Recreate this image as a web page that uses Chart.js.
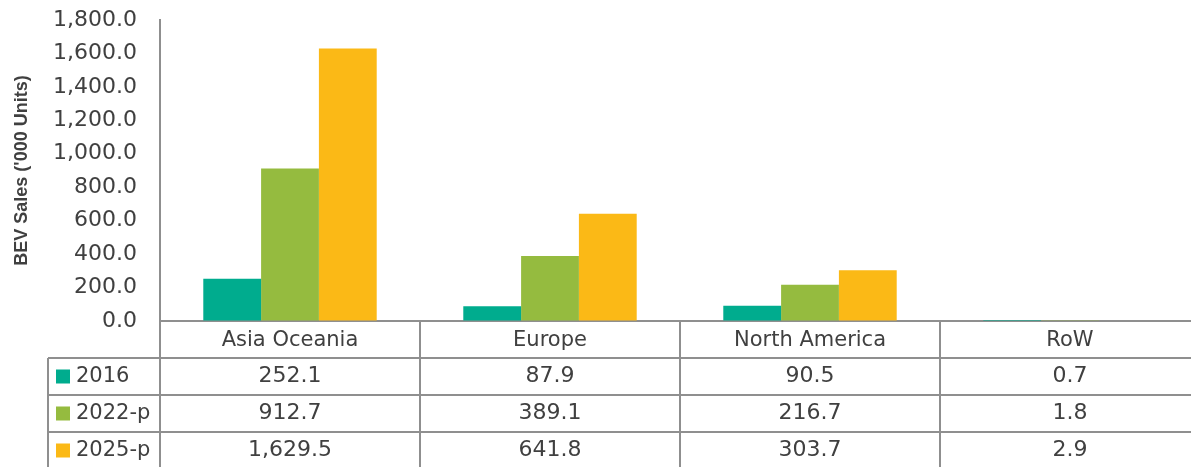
<!DOCTYPE html>
<html>
<head>
<meta charset="utf-8">
<script src="https://cdn.jsdelivr.net/npm/chart.js@4/dist/chart.umd.min.js"></script>
<style>
  html, body { margin: 0; padding: 0; background: #fff; overflow: hidden; }
  #wrap { width: 1200px; height: 467px; }
</style>
</head>
<body>
<div id="wrap"><canvas id="bevChart" width="1200" height="467"></canvas></div>
<script>
// chart data
const categories = ['Asia Oceania', 'Europe', 'North America', 'RoW'];
const seriesNames = ['2016', '2022-p', '2025-p'];
const sales2016 = [252.1, 87.9, 90.5, 0.7];
const sales2022p = [912.7, 389.1, 216.7, 1.8];
const sales2025p = [1629.5, 641.8, 303.7, 2.9];
const yMin = 0, yMax = 1800, yStep = 200;

const colors = ['#00ac8e', '#95bb3f', '#fbb916'];
const lineColor = '#8f8f8f';
const textColor = '#404040';

const fmt = v => v.toLocaleString('en-US', { minimumFractionDigits: 1, maximumFractionDigits: 1 });

Chart.defaults.font.family = "'DejaVu Sans', sans-serif";
Chart.defaults.color = textColor;

// draws the data table under the x axis, column positions taken from the x scale
const dataTable = {
  id: 'dataTable',
  afterDraw(chart) {
    const ctx = chart.ctx;
    const xs = chart.scales.x;
    const area = chart.chartArea;
    const n = categories.length;
    const colW = xs.width / n;
    const rowH = 37;
    const top = area.bottom + 37;   // under header row
    const tableLeft = 48;
    const bottom = chart.height + 5;

    ctx.save();
    ctx.strokeStyle = lineColor;
    ctx.lineWidth = 2;
    ctx.beginPath();
    // horizontal lines
    for (let r = 0; r < 4; r++) {
      const y = top + r * rowH;
      ctx.moveTo(tableLeft, y);
      ctx.lineTo(xs.right, y);
    }
    // vertical lines
    ctx.moveTo(tableLeft, top);
    ctx.lineTo(tableLeft, bottom);
    for (let i = 0; i < n; i++) {
      const x = xs.left + i * colW;
      ctx.moveTo(x, area.bottom);
      ctx.lineTo(x, bottom);
    }
    ctx.stroke();

    ctx.textBaseline = 'middle';
    chart.data.datasets.forEach((ds, r) => {
      const cy = top + r * rowH + rowH / 2;
      ctx.fillStyle = ds.backgroundColor;
      ctx.fillRect(56, cy - 7, 14, 14);
      ctx.fillStyle = textColor;
      ctx.textAlign = 'left';
      ctx.font = "21px 'DejaVu Sans', sans-serif";
      ctx.fillText(ds.label, 76, cy);
      ctx.textAlign = 'center';
      ctx.font = "22px 'DejaVu Sans', sans-serif";
      ds.data.forEach((v, i) => {
        ctx.fillText(fmt(v), xs.getPixelForValue(i), cy);
      });
    });
    ctx.restore();
  }
};

new Chart(document.getElementById('bevChart'), {
  type: 'bar',
  data: {
    labels: categories,
    datasets: [
      { label: seriesNames[0], data: sales2016, backgroundColor: colors[0] },
      { label: seriesNames[1], data: sales2022p, backgroundColor: colors[1] },
      { label: seriesNames[2], data: sales2025p, backgroundColor: colors[2] }
    ]
  },
  options: {
    responsive: false,
    animation: false,
    layout: { padding: { top: 20, left: 0, right: 0, bottom: 0 } },
    datasets: { bar: { categoryPercentage: 0.667, barPercentage: 1.0, borderWidth: 0 } },
    plugins: { legend: { display: false }, tooltip: { enabled: false } },
    scales: {
      x: {
        grid: { display: false, drawTicks: false },
        border: { display: true, color: lineColor, width: 2 },
        ticks: { padding: 7, font: { size: 21 }, color: textColor },
        afterFit(scale) { scale.height = 146; }
      },
      y: {
        min: yMin,
        max: yMax,
        // invisible tick marks give the gap between labels and axis
        grid: { display: true, drawOnChartArea: false, drawTicks: true, tickLength: 23, tickColor: 'rgba(0,0,0,0)' },
        border: { display: true, color: lineColor, width: 2 },
        ticks: { stepSize: yStep, padding: 0, font: { size: 22 }, color: textColor, callback: v => fmt(v) },
        title: {
          display: true,
          text: "BEV Sales ('000 Units)",
          font: { family: "'Liberation Sans', sans-serif", size: 18, weight: 'bold' },
          color: textColor,
          padding: { top: 11, bottom: 0 }
        },
        afterFit(scale) { scale.width = 160; }
      }
    }
  },
  plugins: [dataTable]
});
</script>
</body>
</html>
